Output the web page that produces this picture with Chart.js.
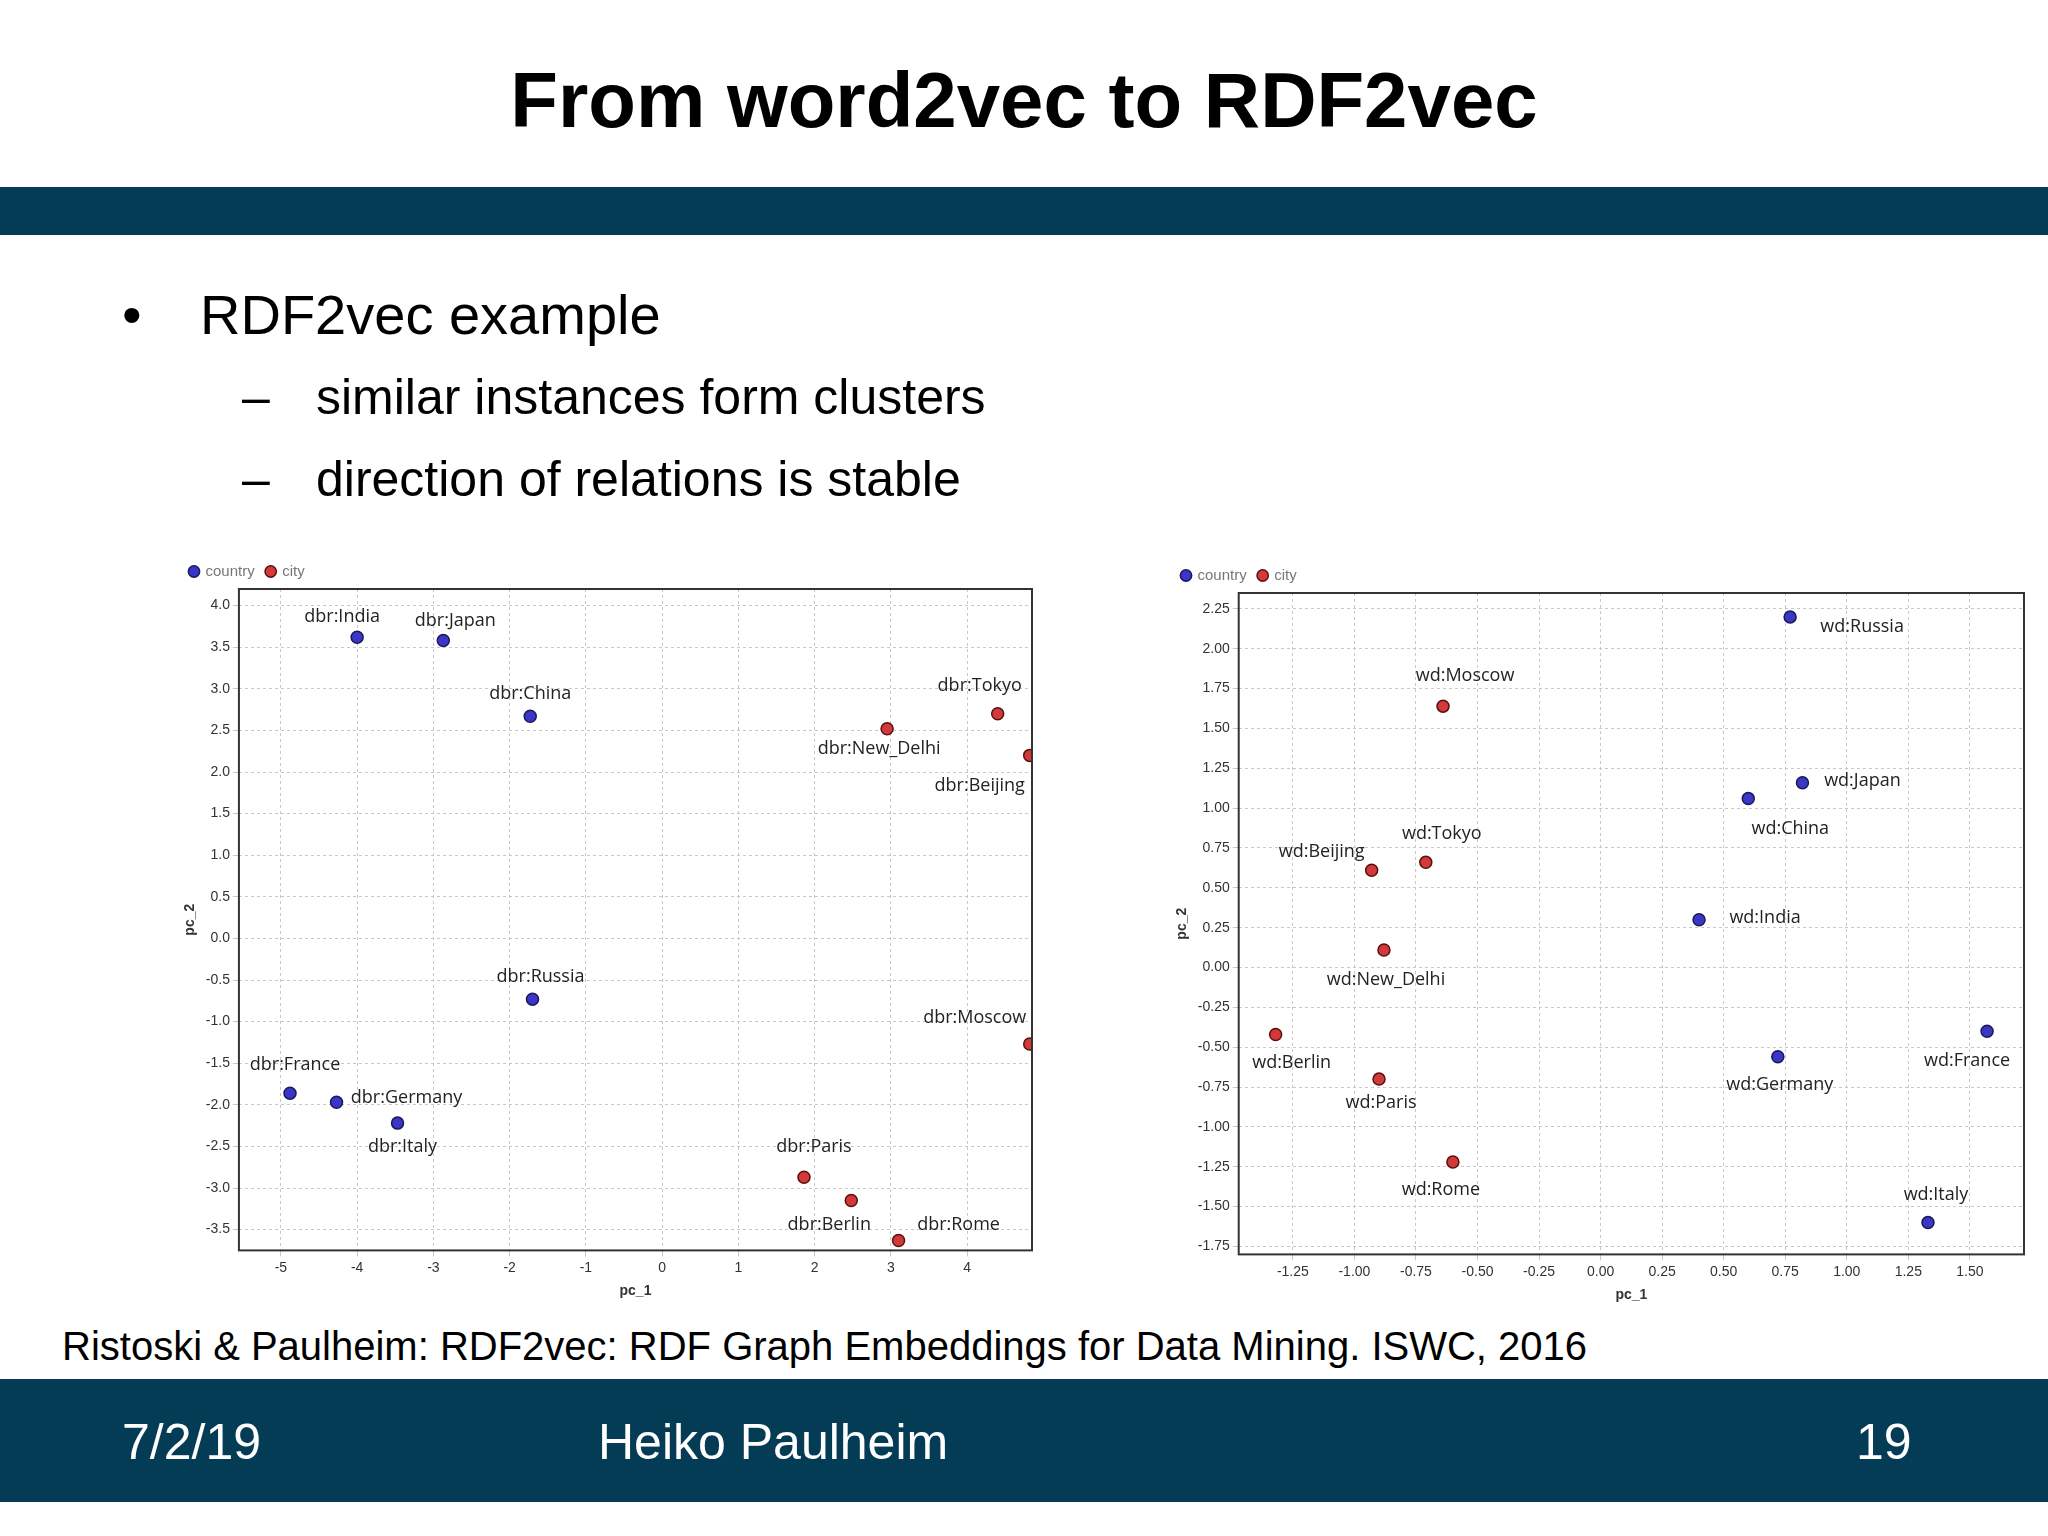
<!DOCTYPE html>
<html><head><meta charset="utf-8">
<script src="https://cdn.jsdelivr.net/npm/chart.js@4"></script>
<style>
body{margin:0;width:2048px;height:1536px;background:#fff;font-family:"Liberation Sans",Arial,sans-serif;position:relative;overflow:hidden}
.abs{position:absolute}
#title{left:0;width:2048px;top:55px;text-align:center;font-weight:bold;font-size:78px}
#bar1{left:0;top:187px;width:2048px;height:48px;background:#053c55}
#foot{left:0;top:1379px;width:2048px;height:123px;background:#053c55;color:#fff;font-size:50px}
.t{position:absolute;white-space:nowrap}
</style></head><body>
<div id="title" class="abs">From word2vec to RDF2vec</div>
<div id="bar1" class="abs"></div>
<div class="t" style="left:122px;top:282px;font-size:56px">•</div>
<div class="t" style="left:200px;top:282px;font-size:56px">RDF2vec example</div>
<div class="t" style="left:242px;top:368px;font-size:50px">–</div>
<div class="t" style="left:316px;top:368px;font-size:50px">similar instances form clusters</div>
<div class="t" style="left:242px;top:450px;font-size:50px">–</div>
<div class="t" style="left:316px;top:450px;font-size:50px">direction of relations is stable</div>
<div class="t" style="left:62px;top:1324px;font-size:40px">Ristoski &amp; Paulheim: RDF2vec: RDF Graph Embeddings for Data Mining. ISWC, 2016</div>
<div id="foot" class="abs">
<div class="t" style="left:122px;top:34px">7/2/19</div>
<div class="t" style="left:598px;top:34px">Heiko Paulheim</div>
<div class="t" style="left:1856px;top:34px">19</div>
</div>
<div class="abs" style="left:178px;top:552px;width:862px;height:752px"><canvas id="c1" width="862" height="752"></canvas></div>
<div class="abs" style="left:1170px;top:556px;width:862px;height:752px"><canvas id="c2" width="862" height="752"></canvas></div>
<script>
// ---- data ----
const leftCountryNames=["dbr:India","dbr:Japan","dbr:China","dbr:Russia","dbr:France","dbr:Germany","dbr:Italy"];
const leftCountryX=[-4.0,-2.87,-1.73,-1.70,-4.88,-4.27,-3.47];
const leftCountryY=[3.62,3.58,2.67,-0.73,-1.86,-1.97,-2.22];
const leftCityNames=["dbr:Tokyo","dbr:New_Delhi","dbr:Beijing","dbr:Moscow","dbr:Paris","dbr:Berlin","dbr:Rome"];
const leftCityX=[4.40,2.95,4.82,4.82,1.86,2.48,3.10];
const leftCityY=[2.70,2.52,2.20,-1.27,-2.87,-3.15,-3.63];
const rightCountryNames=["wd:Russia","wd:Japan","wd:China","wd:India","wd:Germany","wd:France","wd:Italy"];
const rightCountryX=[0.77,0.82,0.60,0.40,0.72,1.57,1.33];
const rightCountryY=[2.20,1.16,1.06,0.30,-0.56,-0.40,-1.60];
const rightCityNames=["wd:Moscow","wd:Tokyo","wd:Beijing","wd:New_Delhi","wd:Berlin","wd:Paris","wd:Rome"];
const rightCityX=[-0.64,-0.71,-0.93,-0.88,-1.32,-0.90,-0.60];
const rightCityY=[1.64,0.66,0.61,0.11,-0.42,-0.70,-1.22];
const leftXTicks=[-5,-4,-3,-2,-1,0,1,2,3,4];
const leftYTicks=[-3.5,-3,-2.5,-2,-1.5,-1,-0.5,0,0.5,1,1.5,2,2.5,3,3.5,4];
const rightXTicks=[-1.25,-1,-0.75,-0.5,-0.25,0,0.25,0.5,0.75,1,1.25,1.5];
const rightYTicks=[-1.75,-1.5,-1.25,-1,-0.75,-0.5,-0.25,0,0.25,0.5,0.75,1,1.25,1.5,1.75,2,2.25];
// ---- label placement (pixel offsets) ----
const labelOff={
 "dbr:India":[-15,-20],"dbr:Japan":[12,-20],"dbr:China":[0,-22],"dbr:Russia":[8,-22],"dbr:France":[5,-28],
 "dbr:Germany":[70,-4],"dbr:Italy":[5,24],"dbr:Tokyo":[-18,-28],"dbr:New_Delhi":[-8,20],"dbr:Beijing":[-50,30],
 "dbr:Moscow":[-55,-26],"dbr:Paris":[10,-30],"dbr:Berlin":[-22,24],"dbr:Rome":[60,-16],
 "wd:Russia":[72,10],"wd:Japan":[60,-2],"wd:China":[42,30],"wd:India":[66,-2],"wd:Germany":[2,28],
 "wd:France":[-20,30],"wd:Italy":[8,-28],"wd:Moscow":[22,-30],"wd:Tokyo":[16,-28],"wd:Beijing":[-50,-18],
 "wd:New_Delhi":[2,30],"wd:Berlin":[16,28],"wd:Paris":[2,24],"wd:Rome":[-12,28]};
const labelPlugin={id:'lbl',afterDatasetsDraw(chart){
 const ctx=chart.ctx;ctx.save();ctx.font='18px "Open Sans", sans-serif';ctx.fillStyle='#222';ctx.textAlign='center';ctx.textBaseline='middle';
 chart.data.datasets.forEach((ds,i)=>{chart.getDatasetMeta(i).data.forEach((el,j)=>{
  const n=ds.names[j];const o=labelOff[n]||[0,-20];ctx.fillText(n,el.x+o[0],el.y+o[1]);});});
 ctx.restore();}};
const boxPlugin={id:'box',afterDraw(chart){const a=chart.chartArea,ctx=chart.ctx;ctx.save();ctx.strokeStyle='#333';ctx.lineWidth=2;ctx.strokeRect(a.left,a.top,a.right-a.left,a.bottom-a.top);ctx.restore();}};
function mk(id,cn,cx,cy,tn,tx,ty,xt,yt,xr,yr,yfmt,xfmt){
 const pts=(xs,ys)=>xs.map((x,i)=>({x:x,y:ys[i]}));
 new Chart(document.getElementById(id),{type:'scatter',
 data:{datasets:[
  {label:'country',names:cn,data:pts(cx,cy),backgroundColor:'#3b35c8',borderColor:'#1a1a55',borderWidth:1.5,pointRadius:6},
  {label:'city',names:tn,data:pts(tx,ty),backgroundColor:'#d23a3a',borderColor:'#5a1010',borderWidth:1.5,pointRadius:6}]},
 options:{responsive:false,animation:false,layout:{padding:{right:8}},
  plugins:{tooltip:{enabled:false},legend:{position:'top',align:'start',labels:{usePointStyle:true,pointStyle:'circle',boxWidth:8,boxHeight:8,color:'#777',font:{size:15},padding:12}}},
  scales:{
   x:{type:'linear',min:xr[0],max:xr[1],afterBuildTicks:s=>{s.ticks=xt.map(v=>({value:v}));},
    ticks:{color:'#333',font:{size:14},callback:xfmt,autoSkip:false,maxRotation:0},
    grid:{color:'#c8c8c8',tickLength:6,drawTicks:true},border:{dash:[3,3],display:false},
    title:{display:true,text:'pc_1',font:{size:14,weight:'bold'},color:'#333'}},
   y:{type:'linear',min:yr[0],max:yr[1],afterBuildTicks:s=>{s.ticks=yt.map(v=>({value:v}));},
    ticks:{color:'#333',font:{size:14},callback:yfmt,autoSkip:false},
    grid:{color:'#c8c8c8',tickLength:6},border:{dash:[3,3],display:false},
    title:{display:true,text:'pc_2',font:{size:14,weight:'bold'},color:'#333'}}}},
 plugins:[labelPlugin,boxPlugin]});
}
mk('c1',leftCountryNames,leftCountryX,leftCountryY,leftCityNames,leftCityX,leftCityY,leftXTicks,leftYTicks,[-5.55,4.85],[-3.75,4.2],v=>v.toFixed(1),v=>String(v));
mk('c2',rightCountryNames,rightCountryX,rightCountryY,rightCityNames,rightCityX,rightCityY,rightXTicks,rightYTicks,[-1.47,1.72],[-1.8,2.35],v=>v.toFixed(2),v=>v.toFixed(2));
</script>
</body></html>
